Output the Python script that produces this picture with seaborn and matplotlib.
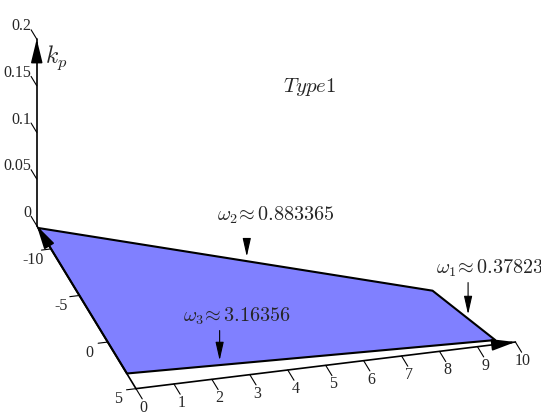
import matplotlib
matplotlib.use("Agg")
import matplotlib.pyplot as plt
import seaborn as sns
from mpl_toolkits.mplot3d import proj3d
from mpl_toolkits.mplot3d.art3d import Poly3DCollection

sns.set_style("white")
plt.rcParams["mathtext.fontset"] = "cm"
plt.rcParams["font.family"] = ["Liberation Serif", "DejaVu Serif"]

# stability region (kp = 0 plane), corner points
region_x = [0.0, 8.73, 9.53, 0.0]
region_y = [-12.3, -1.2, 4.5, 3.32]

x_ticks = [0, 1, 2, 3, 4, 5, 6, 7, 8, 9, 10]
y_ticks = [-10, -5, 0, 5]
z_ticks = [0, 0.05, 0.1, 0.15, 0.2]
z_tick_labels = ["0", "0.05", "0.1", "0.15", "0.2"]

# boundary crossing frequencies: label, edge index (start vertex), position along edge
omega_labels = [r"$\omega_2\!\approx 0.883365$", r"$\omega_1\!\approx 0.37823$",
                r"$\omega_3\!\approx 3.16356$"]
omega_edge = [0, 1, 3]
omega_frac = [0.53, 0.575, 0.253]

x_max, y_min, y_max, z_max = 10, -12.5, 5, 0.2

fig = plt.figure(figsize=(5.41, 4.12), dpi=100)
ax = fig.add_axes([0, 0.024, 1, 1], projection="3d", proj_type="ortho",
                  computed_zorder=False)
ax.set_xlim(0, x_max)
ax.set_ylim(y_min, y_max)
ax.set_zlim(0, z_max)
ax.set_box_aspect((388, 371, 206), zoom=1.3735)
ax.view_init(elev=-26.7, azim=-74.7)
ax.set_axis_off()

# filled region
verts = [list(zip(region_x, region_y, [0] * len(region_x)))]
poly = Poly3DCollection(verts, facecolor="#8080ff", edgecolor="black",
                        linewidth=1.5, zorder=1)
poly.set_clip_on(False)
ax.add_collection3d(poly)

# hand-drawn axes
line_kw = dict(color="black", zorder=2, clip_on=False)
ax.plot([0, x_max], [y_max, y_max], [0, 0], lw=1.2, **line_kw)
ax.plot([0, 0], [y_max, y_min], [0, 0], lw=1.2, **line_kw)
ax.plot([0, 0], [y_min, y_min], [0, z_max], lw=1.2, **line_kw)

for t in x_ticks:
    ax.plot([t, t], [y_max, y_max + 1.1], [0, 0], lw=0.8, **line_kw)
    ax.text(t - 0.1, y_max + 2.0, 0, str(t), ha="center", va="center", size=11.5)
for t in y_ticks:
    ax.plot([0, -0.25], [t, t], [0, 0], lw=0.8, **line_kw)
    ax.text(-0.6, t + 0.85, 0, str(t), ha="center", va="center", size=11.5)
for t, lab in zip(z_ticks, z_tick_labels):
    ax.plot([0, 0], [y_min, y_min - 1.0], [t, t], lw=0.8, **line_kw)
    ax.text(0, y_min - 0.9, t - 0.004, lab, ha="right", va="bottom", size=11.5)

ax.text(0, y_min + 1.5, 0.195, "$k_p$", ha="left", va="center", size=17)

fig.canvas.draw()


def to2d(x, y, z=0.0):
    px, py, _ = proj3d.proj_transform(x, y, z, ax.get_proj())
    return px, py


head = dict(arrowstyle="-|>,head_length=0.9,head_width=0.22", color="black",
            lw=1.2, mutation_scale=16, shrinkA=0, shrinkB=0)
ax.annotate("", xy=to2d(x_max, y_max), xytext=to2d(x_max - 0.5, y_max),
            arrowprops=head, annotation_clip=False)
ax.annotate("", xy=to2d(0, y_min), xytext=to2d(0, y_min + 1.2),
            arrowprops=head, annotation_clip=False)
ax.annotate("", xy=to2d(0, y_min, z_max), xytext=to2d(0, y_min, z_max - 0.012),
            arrowprops=head, annotation_clip=False)

# frequency annotations
text_off = [(29, 45), (22, 50), (17, 48)]
arrow_len = [20, 36, 34]
n = len(region_x)
for lab, e, f, toff, alen in zip(omega_labels, omega_edge, omega_frac, text_off, arrow_len):
    x0, y0 = region_x[e], region_y[e]
    x1, y1 = region_x[(e + 1) % n], region_y[(e + 1) % n]
    if e == 3:
        x0, y0, x1, y1 = region_x[3], region_y[3], region_x[2], region_y[2]
    tip = to2d(x0 + f * (x1 - x0), y0 + f * (y1 - y0))
    ax.annotate("", xy=tip, xytext=(0, alen), textcoords="offset pixels",
                annotation_clip=False,
                arrowprops=dict(arrowstyle="-|>,head_length=0.8,head_width=0.18",
                                color="black", lw=0.8, mutation_scale=14,
                                shrinkA=0, shrinkB=3))
    ax.annotate(lab, xy=tip, xytext=toff, textcoords="offset pixels",
                ha="center", va="center", size=14.5, annotation_clip=False)

fig.text(310 / 541, 1 - 87 / 412, "$Type1$", ha="center", va="center", size=15)

fig.savefig("out.png", dpi=100)
